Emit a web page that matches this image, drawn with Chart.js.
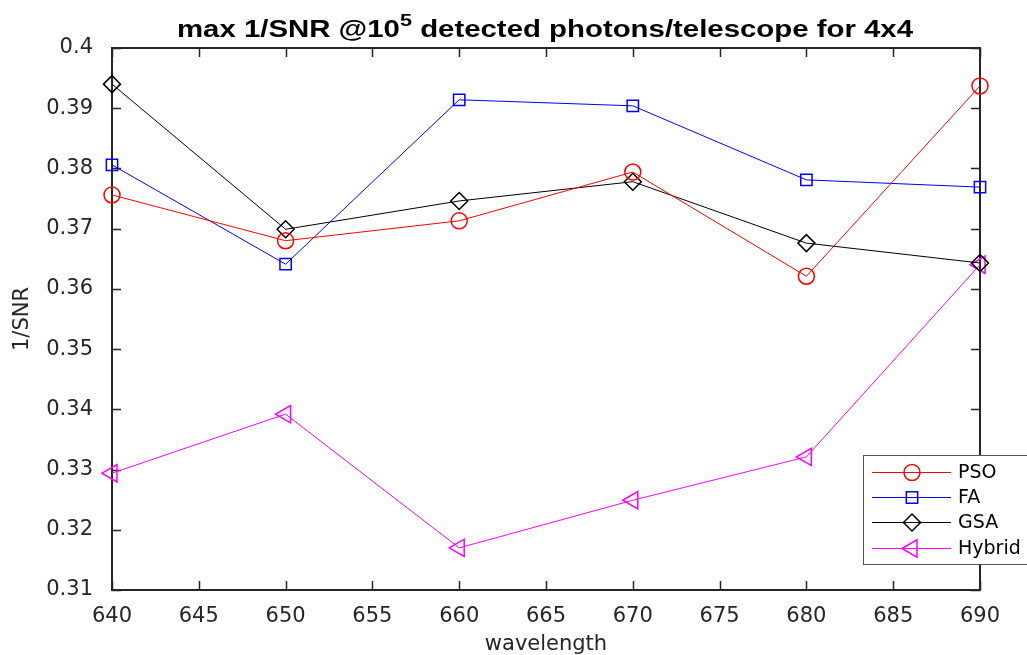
<!DOCTYPE html>
<html>
<head>
<meta charset="utf-8">
<script src="https://cdn.jsdelivr.net/npm/chart.js@4.4.1/dist/chart.umd.min.js"></script>
<style>
html, body { margin: 0; padding: 0; background: #fff; }
#wrap { width: 1027px; height: 655px; position: relative; }
</style>
</head>
<body>
<div id="wrap"><canvas id="chart" width="1027" height="655"></canvas></div>
<script>
var wavelengths = [640, 650, 660, 670, 680, 690];
var psoValues = [0.3756, 0.3680, 0.3713, 0.3794, 0.3621, 0.3937];
var faValues = [0.3806, 0.3641, 0.3914, 0.3904, 0.3781, 0.3769];
var gsaValues = [0.3940, 0.3699, 0.3746, 0.3778, 0.3676, 0.3643];
var hybridValues = [0.3294, 0.3392, 0.3170, 0.3249, 0.3321, 0.3640];
var seriesNames = ['PSO', 'FA', 'GSA', 'Hybrid'];
var xTicks = [640, 645, 650, 655, 660, 665, 670, 675, 680, 685, 690];
var yTicks = [0.31, 0.32, 0.33, 0.34, 0.35, 0.36, 0.37, 0.38, 0.39, 0.4];

var axisColor = '#262626';
var fontName = '"DejaVu Sans", Verdana, sans-serif';
var titleFont = '"Liberation Sans", Arial, sans-serif';

function toPoints(vals) {
    var out = [];
    for (var i = 0; i < vals.length; i++) {
        out.push({ x: wavelengths[i], y: vals[i] });
    }
    return out;
}

// box, inward ticks, title and legend in matlab style
var matlabPlugin = {
    id: 'matlab',
    beforeDatasetsDraw: function (chart) {
        var ctx = chart.ctx;
        var a = chart.chartArea;
        var xs = chart.scales.x, ys = chart.scales.y;
        ctx.save();
        ctx.strokeStyle = axisColor;
        ctx.lineWidth = 1.5;
        ctx.beginPath();
        for (var i = 0; i < xTicks.length; i++) {
            var px = Math.round(xs.getPixelForValue(xTicks[i])) + 0.5;
            ctx.moveTo(px, a.bottom); ctx.lineTo(px, a.bottom - 9);
            ctx.moveTo(px, a.top); ctx.lineTo(px, a.top + 9);
        }
        for (var j = 0; j < yTicks.length; j++) {
            var py = Math.round(ys.getPixelForValue(yTicks[j])) + 0.5;
            ctx.moveTo(a.left, py); ctx.lineTo(a.left + 9, py);
            ctx.moveTo(a.right, py); ctx.lineTo(a.right - 9, py);
        }
        ctx.stroke();
        ctx.lineWidth = 2;
        ctx.strokeRect(a.left, a.top, a.right - a.left, a.bottom - a.top);
        ctx.restore();
    },
    afterDatasetsDraw: function (chart) {
        var ctx = chart.ctx;
        ctx.save();

        // legend
        var lx = 863, ly = 455, lw = 180, lh = 109;
        ctx.fillStyle = '#fff';
        ctx.fillRect(lx, ly, lw, lh);
        ctx.strokeStyle = '#555';
        ctx.lineWidth = 1;
        ctx.strokeRect(lx + 0.5, ly + 0.5, lw, lh);
        var rowY = [472, 497, 522, 548];
        for (var k = 0; k < chart.data.datasets.length; k++) {
            var ds = chart.data.datasets[k];
            var yy = rowY[k] + 0.5;
            ctx.strokeStyle = ds.borderColor;
            ctx.lineWidth = 1;
            ctx.beginPath();
            ctx.moveTo(lx + 9, yy); ctx.lineTo(lx + 88, yy);
            ctx.stroke();
            ctx.fillStyle = 'rgba(0,0,0,0)';
            ctx.lineWidth = 1.5;
            Chart.helpers.drawPoint(ctx, {
                pointStyle: ds.pointStyle,
                radius: ds.pointRadius,
                rotation: ds.pointRotation || 0,
                borderWidth: 1.5
            }, lx + 49, yy);
            ctx.fillStyle = '#000';
            ctx.font = '19px ' + fontName;
            ctx.textBaseline = 'middle';
            ctx.textAlign = 'left';
            ctx.fillText(ds.label, lx + 95, yy + 1);
        }

        // title with superscript, stretched to the reference width
        var parts = [
            { t: 'max 1/SNR @10', f: 'bold 23px ' + titleFont, dy: 0 },
            { t: '5', f: 'bold 17px ' + titleFont, dy: -11 },
            { t: ' detected photons/telescope for 4x4', f: 'bold 23px ' + titleFont, dy: 0 }
        ];
        var total = 0;
        for (var p = 0; p < parts.length; p++) {
            ctx.font = parts[p].f;
            parts[p].w = ctx.measureText(parts[p].t).width;
            total += parts[p].w;
        }
        var sx = 736 / total;
        ctx.translate(177, 37);
        ctx.scale(sx, 1);
        ctx.fillStyle = '#000';
        ctx.textBaseline = 'alphabetic';
        ctx.textAlign = 'left';
        var tx = 0;
        for (var q = 0; q < parts.length; q++) {
            ctx.font = parts[q].f;
            ctx.fillText(parts[q].t, tx, parts[q].dy);
            tx += parts[q].w;
        }
        ctx.restore();
    }
};

var ctx = document.getElementById('chart').getContext('2d');
var myChart = new Chart(ctx, {
    type: 'line',
    data: {
        datasets: [{
            label: seriesNames[0],
            data: toPoints(psoValues),
            borderColor: '#ff0000',
            pointStyle: 'circle',
            pointRadius: 8
        }, {
            label: seriesNames[1],
            data: toPoints(faValues),
            borderColor: '#0000ff',
            pointStyle: 'rect',
            pointRadius: 8
        }, {
            label: seriesNames[2],
            data: toPoints(gsaValues),
            borderColor: '#000000',
            pointStyle: 'rectRot',
            pointRadius: 8.5
        }, {
            label: seriesNames[3],
            data: toPoints(hybridValues),
            borderColor: '#ff00ff',
            pointStyle: 'triangle',
            pointRotation: -90,
            pointRadius: 10
        }]
    },
    options: {
        responsive: false,
        animation: false,
        datasets: {
            line: {
                borderWidth: 1,
                backgroundColor: 'rgba(0,0,0,0)',
                pointBackgroundColor: 'rgba(0,0,0,0)',
                pointBorderWidth: 1.5,
                fill: false,
                tension: 0,
                clip: false
            }
        },
        layout: { padding: { top: 48, right: 47, left: 0, bottom: 0 } },
        plugins: {
            legend: { display: false },
            tooltip: { enabled: false }
        },
        scales: {
            x: {
                type: 'linear',
                min: 640,
                max: 690,
                afterBuildTicks: function (s) {
                    s.ticks = xTicks.map(function (v) { return { value: v }; });
                },
                afterFit: function (s) { s.height = 65; },
                grid: { display: false },
                border: { display: false },
                ticks: {
                    color: axisColor,
                    font: { family: fontName, size: 21 },
                    padding: 6,
                    maxRotation: 0
                },
                title: {
                    display: true,
                    text: 'wavelength',
                    color: axisColor,
                    font: { family: fontName, size: 21 },
                    padding: { top: 0, bottom: -2 }
                }
            },
            y: {
                type: 'linear',
                min: 0.31,
                max: 0.4,
                afterBuildTicks: function (s) {
                    s.ticks = yTicks.map(function (v) { return { value: v }; });
                },
                afterFit: function (s) { s.width = 112; },
                grid: { display: false },
                border: { display: false },
                ticks: {
                    color: axisColor,
                    font: { family: fontName, size: 21 },
                    padding: 11,
                    callback: function (v) { return String(parseFloat(v.toFixed(2))); }
                },
                title: {
                    display: true,
                    text: '1/SNR',
                    color: axisColor,
                    font: { family: fontName, size: 21 },
                    padding: { top: 10, bottom: 0 }
                }
            }
        }
    },
    plugins: [matlabPlugin]
});
</script>
</body>
</html>
